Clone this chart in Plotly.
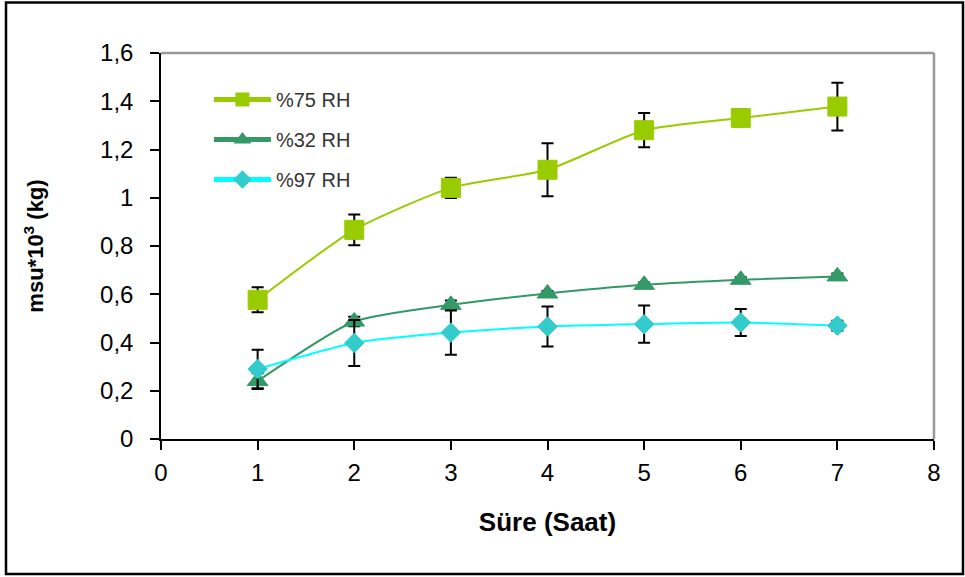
import plotly.graph_objects as go

# ---- data ----
hours = [1, 2, 3, 4, 5, 6, 7]

rh75 = [0.577, 0.867, 1.041, 1.116, 1.280, 1.331, 1.378]
rh75_err = [0.052, 0.064, 0.042, 0.110, 0.071, 0.035, 0.099]

rh32 = [0.240, 0.487, 0.556, 0.603, 0.639, 0.660, 0.674]
rh32_err = [0.033, 0.020, 0.018, 0.010, 0.010, 0.010, 0.012]

rh97 = [0.290, 0.398, 0.441, 0.466, 0.476, 0.483, 0.470]
rh97_err = [0.080, 0.095, 0.092, 0.083, 0.077, 0.056, 0.020]

y_tickvals = [0, 0.2, 0.4, 0.6, 0.8, 1.0, 1.2, 1.4, 1.6]
y_ticktext = ["0", "0,2", "0,4", "0,6", "0,8", "1", "1,2", "1,4", "1,6"]
x_tickvals = [0, 1, 2, 3, 4, 5, 6, 7, 8]

series_names = ["%75 RH", "%32 RH", "%97 RH"]

FONT = "Liberation Sans, Arial, sans-serif"

def err(vals):
    return dict(type="data", array=vals, visible=True, color="black",
                thickness=2, width=6)

fig = go.Figure()
fig.add_trace(go.Scatter(
    x=hours, y=rh75, name=series_names[0], mode="lines+markers",
    line=dict(color="#99CC00", width=2, shape="spline", smoothing=0.6),
    marker=dict(symbol="square", size=19, color="#99CC00",
                line=dict(color="#99CC00", width=1)),
    error_y=err(rh75_err), legendgroup="a"))
fig.add_trace(go.Scatter(
    x=hours, y=rh32, name=series_names[1], mode="lines+markers",
    line=dict(color="#339966", width=2, shape="spline", smoothing=0.6),
    marker=dict(symbol="triangle-up", size=18, color="#339966",
                line=dict(color="#339966", width=1)),
    error_y=err(rh32_err), legendgroup="b"))
fig.add_trace(go.Scatter(
    x=hours, y=rh97, name=series_names[2], mode="lines+markers",
    line=dict(color="#00FFFF", width=2, shape="spline", smoothing=0.6),
    marker=dict(symbol="diamond", size=15, color="#33CCCC",
                line=dict(color="#33CCCC", width=1)),
    error_y=err(rh97_err), legendgroup="c"))

fig.update_layout(
    width=965, height=577,
    margin=dict(l=161, r=31, t=53, b=138, autoexpand=False),
    paper_bgcolor="white", plot_bgcolor="white",
    font=dict(family=FONT, color="black"),
    showlegend=True,
    legend=dict(x=0.062, y=0.93, xanchor="left", yanchor="top",
                bgcolor="rgba(0,0,0,0)", font=dict(size=20, color="#333333"),
                traceorder="grouped", tracegroupgap=11, itemwidth=57,
                itemsizing="constant"),
    xaxis=dict(range=[0, 8], tickvals=x_tickvals, showgrid=False, zeroline=False,
               showline=True, linecolor="black", linewidth=1.5,
               ticks="outside", ticklen=9, tickcolor="black", tickwidth=1.5,
               tickfont=dict(size=24, color="black"), automargin=False,
               ticklabelstandoff=2,
               title=dict(text="<b>Süre (Saat)</b>", font=dict(size=26),
                          standoff=28)),
    yaxis=dict(range=[0, 1.6], tickvals=y_tickvals, ticktext=y_ticktext,
               showgrid=False, zeroline=False, automargin=False,
               showline=True, linecolor="black", linewidth=1.5,
               ticks="outside", ticklen=9, tickcolor="black", tickwidth=1.5,
               tickfont=dict(size=24, color="black"), ticklabelstandoff=12,
               title=dict(text="<b>msu*10<sup>3</sup> (kg)</b>", font=dict(size=22),
                          standoff=50)),
    shapes=[
        # plot-area top/right border (grey)
        dict(type="line", xref="paper", yref="paper", x0=0, x1=1, y0=1, y1=1,
             line=dict(color="#999999", width=2.5)),
        dict(type="line", xref="paper", yref="paper", x0=1, x1=1, y0=0, y1=1,
             line=dict(color="#999999", width=2.5)),
        # outer chart frame
        dict(type="rect", xref="paper", yref="paper",
             x0=(6 - 161) / 773, x1=(963 - 161) / 773,
             y0=(439 - 574) / 386, y1=(439 - 2.5) / 386,
             line=dict(color="black", width=2.5), layer="below"),
    ],
)

fig.write_html("out.html",
               config={"displayModeBar": False},
               post_script="document.body.style.margin='0';"
                           "document.body.style.overflow='hidden';")
